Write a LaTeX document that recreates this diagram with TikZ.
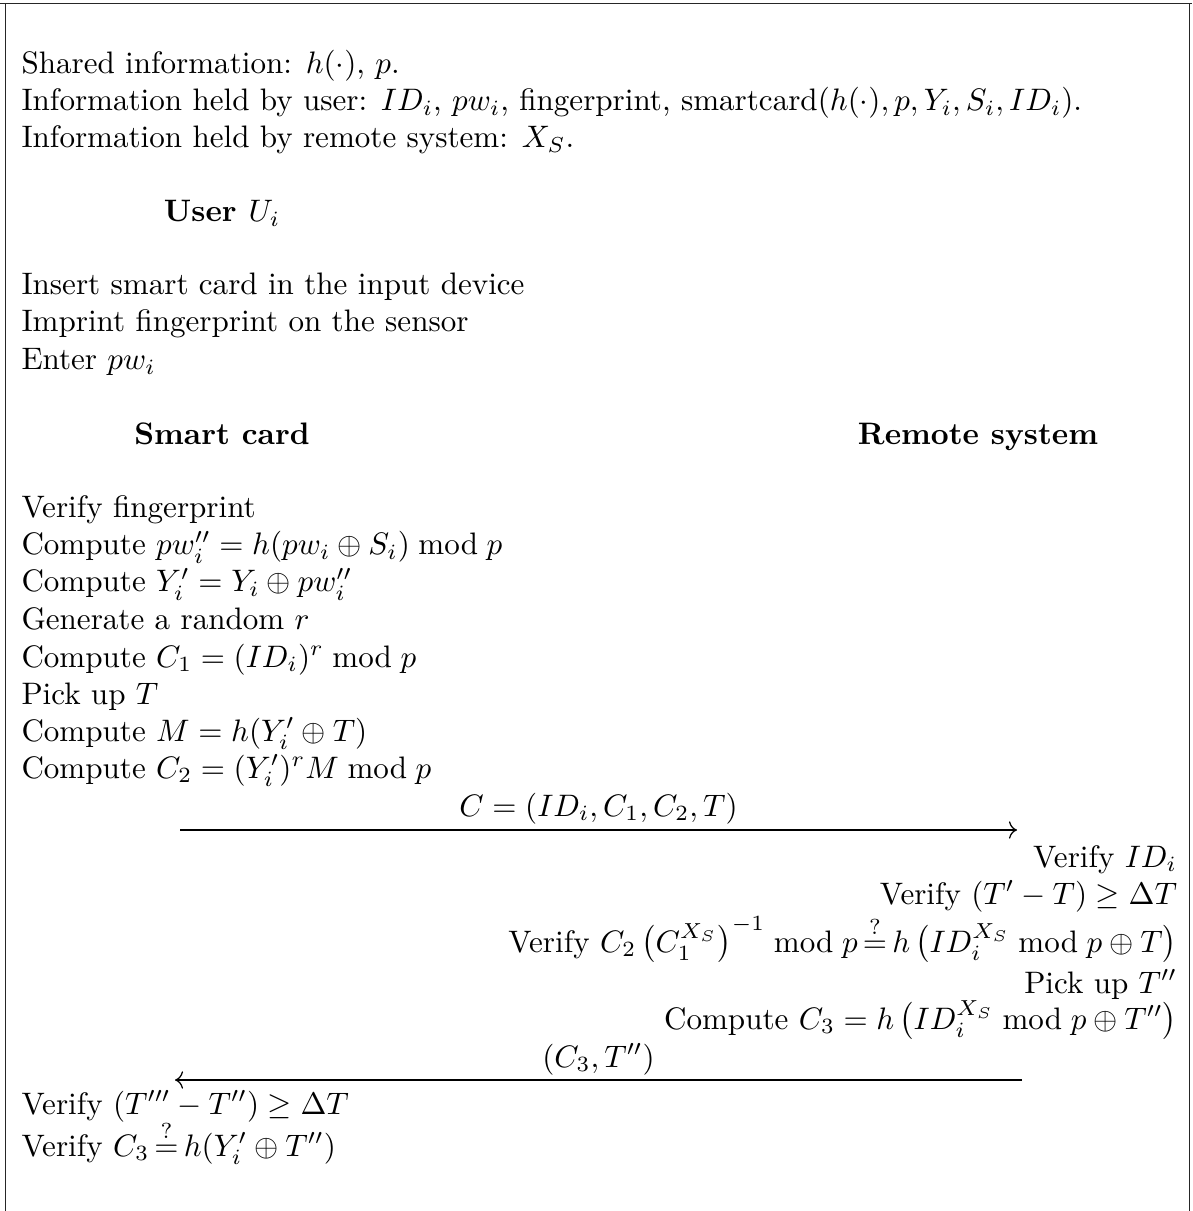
\documentclass[tikz,border=0pt]{standalone}
\usepackage{amsmath,amssymb}
\usetikzlibrary{arrows.meta}
\tikzset{
  txt/.style={inner sep=0pt, outer sep=0pt},
  lefttxt/.style={txt, anchor=base west},
  righttxt/.style={txt, anchor=base east},
  headtxt/.style={txt, anchor=base, font=\bfseries},
  frameline/.style={line width=0.4pt, draw=black!85},
  msgarrow/.style={line width=0.4pt, -{To[length=2.6pt,width=5.6pt]}},
}
% "equal?" relation with slightly reduced spacing
\newcommand{\qeq}{\mkern3mu{\stackrel{?}{=}}\mkern3mu}
% parenthesised group with big delimiters and inner spacing
\newcommand{\bpar}[1]{\mathinner{\bigl(#1\bigr)}}
\begin{document}
\begin{tikzpicture}[x=0.3218pt, y=-0.3218pt]
\useasboundingbox (0,0) rectangle (1192,1211);

% open frame: top rule and two sides
\coordinate (ftl) at (0,3.5);
\coordinate (ftr) at (1192,3.5);
\coordinate (fl1) at (5.5,3.5);
\coordinate (fl2) at (5.5,1211);
\coordinate (fr1) at (1189.5,3.5);
\coordinate (fr2) at (1189.5,1211);
\draw[frameline] (ftl) -- (ftr);
\draw[frameline] (fl1) -- (fl2);
\draw[frameline] (fr1) -- (fr2);

% shared and private information
\node[lefttxt] (shared) at (21.5,74) {Shared information: $h(\cdot)$, $p$.};
\node[lefttxt] (userinfo) at (21.5,111) {Information held by user: $ID_i$, $pw_i$, fingerprint, smartcard$(h(\cdot), p, Y_i, S_i, ID_i)$.};
\node[lefttxt] (sysinfo) at (21.5,148) {Information held by remote system: $X_S$.};

% user actions
\node[headtxt] (user) at (222,222) {User \normalfont$U_i$};
\node[lefttxt] (insert) at (21.5,295) {Insert smart card in the input device};
\node[lefttxt] (imprint) at (21.5,332) {Imprint fingerprint on the sensor};
\node[lefttxt] (enter) at (21.5,370) {Enter $pw_i$};

% parties
\node[headtxt] (card) at (222,445) {Smart card};
\node[headtxt] (remote) at (978,445) {Remote system};

% smart card computations
\node[lefttxt] (s1) at (21.5,518) {Verify fingerprint};
\node[lefttxt] (s2) at (21.5,555) {Compute $pw_i'' = h(pw_i \oplus S_i) \bmod p$};
\node[lefttxt] (s3) at (21.5,592) {Compute $Y_i' = Y_i \oplus pw_i''$};
\node[lefttxt] (s4) at (21.5,629) {Generate a random $r$};
\node[lefttxt] (s5) at (21.5,667) {Compute $C_1 = (ID_i)^r \bmod p$};
\node[lefttxt] (s6) at (21.5,704) {Pick up $T$};
\node[lefttxt] (s7) at (21.5,741) {Compute $M = h(Y_i' \oplus T)$};
\node[lefttxt] (s8) at (21.5,778) {Compute $C_2 = (Y_i')^r M \bmod p$};

% login request
\coordinate (m1a) at (180,830);
\coordinate (m1b) at (1017,830);
\draw[msgarrow] (m1a) -- (m1b);
\node[txt, anchor=base] (m1lab) at (598.5,816) {$C = (ID_i, C_1, C_2, T)$};

% remote system checks
\node[righttxt] (r1) at (1177,867) {Verify $ID_i$};
\node[righttxt] (r2) at (1177,904) {Verify $(T' - T) \geq \Delta T$};
\node[righttxt] (r3) at (1177,952) {Verify $C_2 \bpar{C_1^{X_S}}^{-1} \bmod p \qeq h\bpar{ID_i^{X_S} \bmod p \oplus T}$};
\node[righttxt] (r4) at (1177,993) {Pick up $T''$};
\node[righttxt] (r5) at (1177,1029) {Compute $C_3 = h\bpar{ID_i^{X_S} \bmod p \oplus T''}$};

% reply
\coordinate (m2a) at (1022,1080);
\coordinate (m2b) at (175,1080);
\draw[msgarrow] (m2a) -- (m2b);
\node[txt, anchor=base] (m2lab) at (598.5,1067) {$(C_3, T'')$};

% smart card checks
\node[lefttxt] (v1) at (21.5,1114) {Verify $(T''' - T'') \geq \Delta T$};
\node[lefttxt] (v2) at (21.5,1156) {Verify $C_3 \qeq h(Y_i' \oplus T'')$};
\end{tikzpicture}
\end{document}
